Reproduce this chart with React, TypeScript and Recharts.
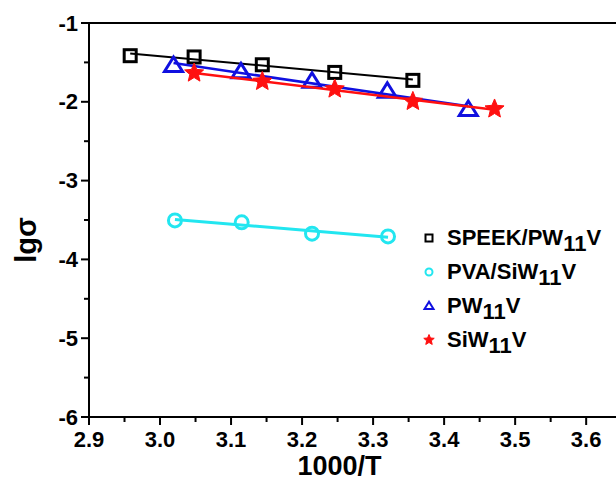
import React from "react";
import { ScatterChart, Scatter, XAxis, YAxis, ReferenceLine } from "recharts";

// values: 1000/T vs lg(sigma)
const speekX = [2.958, 3.048, 3.144, 3.246, 3.356];
const speekY = [-1.415, -1.431, -1.53, -1.627, -1.728];

const pvaX = [3.021, 3.115, 3.214, 3.321];
const pvaY = [-3.505, -3.53, -3.674, -3.708];

const pwX = [3.019, 3.114, 3.214, 3.32, 3.434];
const pwY = [-1.542, -1.622, -1.741, -1.868, -2.1];

const siwX = [3.048, 3.144, 3.246, 3.356, 3.471];
const siwY = [-1.635, -1.741, -1.838, -1.995, -2.091];

const xTicks = [2.9, 2.95, 3.0, 3.05, 3.1, 3.15, 3.2, 3.25, 3.3, 3.35, 3.4, 3.45, 3.5, 3.55, 3.6];
const yTicks = [-6, -5.5, -5, -4.5, -4, -3.5, -3, -2.5, -2, -1.5, -1];

const toPoints = (xs: number[], ys: number[]) => xs.map((x, i) => ({ x, y: ys[i] }));

const FONT = "'Liberation Sans', Arial, sans-serif";

type Kind = "square" | "circle" | "triangle" | "star";

const starPath = (cx: number, cy: number, r: number) => {
  const pts: string[] = [];
  for (let i = 0; i < 10; i++) {
    const rad = i % 2 === 0 ? r : r * 0.45;
    const a = -Math.PI / 2 + (i * Math.PI) / 5;
    pts.push(`${cx + rad * Math.cos(a)},${cy + rad * Math.sin(a)}`);
  }
  return `M${pts.join("L")}Z`;
};

const Marker = ({ kind, cx, cy, s, color, sw }: { kind: Kind; cx: number; cy: number; s: number; color: string; sw: number }) => {
  if (kind === "square")
    return <rect x={cx - s / 2} y={cy - s / 2} width={s} height={s} fill="none" stroke={color} strokeWidth={sw} />;
  if (kind === "circle") return <circle cx={cx} cy={cy} r={s / 2} fill="none" stroke={color} strokeWidth={sw} />;
  if (kind === "triangle") {
    const h = s * 0.8;
    return (
      <polygon
        points={`${cx},${cy - h * 0.6} ${cx - s / 2},${cy + h * 0.4} ${cx + s / 2},${cy + h * 0.4}`}
        fill="none"
        stroke={color}
        strokeWidth={sw}
        strokeLinejoin="miter"
      />
    );
  }
  return <path d={starPath(cx, cy, s / 2)} fill={color} stroke={color} strokeWidth={1} />;
};

const series = [
  { name: "SPEEK/PW", kind: "square" as Kind, color: "#000000", data: toPoints(speekX, speekY), size: 12, sw: 3, lw: 2 },
  { name: "PVA/SiW", kind: "circle" as Kind, color: "#22e6f0", data: toPoints(pvaX, pvaY), size: 13, sw: 3, lw: 3 },
  { name: "PW", kind: "triangle" as Kind, color: "#1010e0", data: toPoints(pwX, pwY), size: 18, sw: 3, lw: 2.5 },
  { name: "SiW", kind: "star" as Kind, color: "#ff1010", data: toPoints(siwX, siwY), size: 20, sw: 2, lw: 2.5 },
];

const XTick = (props: any) => {
  const { x, y, payload } = props;
  const v = payload.value as number;
  const major = Math.round(v * 100) % 10 === 0;
  return (
    <g>
      <line x1={x} x2={x} y1={y} y2={y + (major ? 8 : 5)} stroke="#000" strokeWidth={2} />
      {major && (
        <text x={x} y={y + 22} textAnchor="middle" dominantBaseline="central" fontFamily={FONT} fontWeight="bold" fontSize={22} fill="#000">
          {v.toFixed(1)}
        </text>
      )}
    </g>
  );
};

const YTick = (props: any) => {
  const { x, y, payload } = props;
  const v = payload.value as number;
  const major = Number.isInteger(v);
  return (
    <g>
      <line x1={x} x2={x - (major ? 8 : 5)} y1={y} y2={y} stroke="#000" strokeWidth={2} />
      {major && (
        <text x={x - 11} y={y} textAnchor="end" dominantBaseline="central" fontFamily={FONT} fontWeight="bold" fontSize={22} fill="#000">
          {String(v)}
        </text>
      )}
    </g>
  );
};

const LegendBox = () => (
  <div style={{ position: "absolute", left: 421, top: 221, fontFamily: FONT, fontWeight: "bold", fontSize: 22, color: "#000" }}>
    {series.map((s) => (
      <div key={s.name} style={{ height: 34, display: "flex", alignItems: "center" }}>
        <svg width={16} height={16} style={{ marginRight: 10 }}>
          <Marker kind={s.kind} cx={8} cy={8} s={s.kind === "star" ? 11 : s.kind === "triangle" ? 9 : 7} color={s.color} sw={2} />
        </svg>
        <span style={{ whiteSpace: "nowrap" }}>
          {s.name}
          <span style={{ position: "relative", top: 6 }}>11</span>V
        </span>
      </div>
    ))}
  </div>
);

export default function App() {
  return (
    <div style={{ position: "absolute", left: 0, top: 0, width: 616, height: 479, overflow: "hidden", background: "#fff" }}>
      <ScatterChart width={616} height={479} margin={{ top: 23, right: 0, bottom: 0, left: 15 }}>
        <XAxis
          type="number"
          dataKey="x"
          domain={[2.9, 3.642]}
          ticks={xTicks}
          interval={0}
          tick={<XTick />}
          tickLine={false}
          tickSize={0}
          tickMargin={0}
          height={62}
          axisLine={{ stroke: "#000", strokeWidth: 2 }}
          allowDataOverflow
          label={{ value: "1000/T", position: "insideBottom", offset: 4, dx: -13, fontFamily: FONT, fontWeight: "bold", fontSize: 27, fill: "#000" }}
        />
        <YAxis
          type="number"
          dataKey="y"
          domain={[-6, -1]}
          ticks={yTicks}
          interval={0}
          tick={<YTick />}
          tickLine={false}
          tickSize={0}
          tickMargin={0}
          width={74}
          axisLine={{ stroke: "#000", strokeWidth: 2 }}
          label={(p: any) => {
            const vb = p.viewBox;
            const cx = vb.x + 11;
            const cy = vb.y + vb.height / 2 + 20;
            return (
              <text x={cx} y={cy} transform={`rotate(-90 ${cx} ${cy})`} textAnchor="middle" dominantBaseline="central" fontFamily={FONT} fontWeight="bold" fontSize={29} fill="#000">
                lgσ
              </text>
            );
          }}
        />
        <ReferenceLine y={-1} stroke="#000" strokeWidth={2} />
        {series.map((s) => (
          <Scatter
            key={s.name}
            name={s.name}
            data={s.data}
            isAnimationActive={false}
            line={{ stroke: s.color, strokeWidth: s.lw }}
            lineType="fitting"
            shape={(p: any) => <Marker kind={s.kind} cx={p.cx} cy={p.cy} s={s.size} color={s.color} sw={s.sw} />}
          />
        ))}
      </ScatterChart>
      <LegendBox />
    </div>
  );
}
